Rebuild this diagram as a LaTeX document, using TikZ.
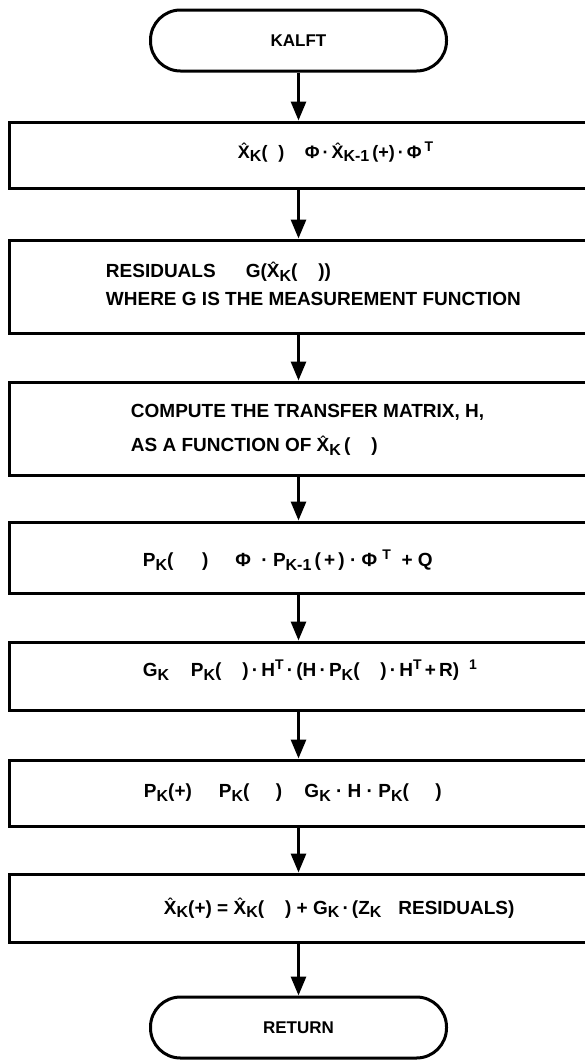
\documentclass[tikz,border=0pt]{standalone}
\usepackage{fontspec}
\setmainfont{Liberation Sans}
\usetikzlibrary{arrows.meta}
% hat, subscript and superscript as the chart prints them
\newcommand{\Xh}{\ooalign{\hidewidth\raise5.5pt\hbox{\fontsize{14}{14}\selectfont ˆ}\hidewidth\cr X}}
\newcommand{\sbk}[1]{\raisebox{-0.35ex}{\fontsize{16}{16}\selectfont #1}}
\newcommand{\spt}[1]{\raisebox{0.75ex}{\fontsize{14}{14}\selectfont #1}}
\newcommand{\mn}{\hspace{1.1em}}

\begin{document}
\begin{tikzpicture}[x=1pt,y=1pt,yscale=-1,xscale=1,
  term/.style={draw,line width=3pt,rounded corners=30pt,minimum width=296pt,minimum height=61pt,inner sep=0pt},
  procbox/.style={draw,line width=3pt,minimum width=579pt,inner sep=0pt},
  flow/.style={line width=3pt,-{Triangle[length=19pt,width=15pt]}},
  txt/.style={anchor=west,inner sep=0.75pt,font=\fontsize{19}{19}\selectfont\bfseries}]
\useasboundingbox (0,0) rectangle (585,1061);

%Shape: Terminal [id:start]
\node[term,font=\fontsize{17}{17}\selectfont\bfseries] (kalft) at (298.5,40.5) {KALFT};
%Shape: Rectangle [id:predict]
\node[procbox,minimum height=66pt] (b1) at (298.5,155) {};
%Shape: Rectangle [id:resid]
\node[procbox,minimum height=93pt] (b2) at (298.5,286.5) {};
%Shape: Rectangle [id:transfer]
\node[procbox,minimum height=93pt] (b3) at (298.5,428.5) {};
%Shape: Rectangle [id:covpred]
\node[procbox,minimum height=71pt] (b4) at (298.5,557.5) {};
%Shape: Rectangle [id:gain]
\node[procbox,minimum height=68pt] (b5) at (298.5,676) {};
%Shape: Rectangle [id:covupd]
\node[procbox,minimum height=66pt] (b6) at (298.5,793) {};
%Shape: Rectangle [id:stateupd]
\node[procbox,minimum height=68pt] (b7) at (298.5,908) {};
%Shape: Terminal [id:return]
\node[term,font=\fontsize{17}{17}\selectfont\bfseries] (ret) at (298.5,1027.5) {RETURN};

% Text Node
\draw (237,152) node [txt,font=\fontsize{18}{18}\selectfont\bfseries] (t1) {\Xh\sbk{K}(\hspace{0.6em})\hphantom{=}\ \ Φ\,·\,\Xh\sbk{K-1}\,(+)\,·\,Φ\,\spt{T}};
% Text Node
\draw (105,284) node [txt,align=left,font=\fontsize{19}{28}\selectfont\bfseries] (t2) {RESIDUALS\hphantom{=}\quad G(\Xh\sbk{K}(\mn))\\WHERE G IS THE MEASUREMENT FUNCTION};
% Text Node
\draw (130,430) node [txt,align=left,font=\fontsize{19}{34}\selectfont\bfseries] (t3) {COMPUTE THE TRANSFER MATRIX, H,\\AS A FUNCTION OF \Xh\sbk{K}\,(\mn)};
% Text Node
\draw (142,560) node [txt] (t4) {P\sbk{K}(\hspace{1.5em})\ \hphantom{=}\ \ Φ\ \ ·\ P\sbk{K-1}\,(\,+\,)\ ·\ Φ\ \spt{T}\ \ +\ Q};
% Text Node
\draw (142,670) node [txt] (t5) {G\sbk{K}\ \hphantom{=}\ P\sbk{K}(\mn)\,·\,H\spt{T}\,·\,(H\,·\,P\sbk{K}(\mn)\,·\,H\spt{T}\,+\,R)\ \spt{\hphantom{-}1}};
% Text Node
\draw (143,793) node [txt] (t6) {P\sbk{K}(+)\ \ \hphantom{=}\ P\sbk{K}(\hspace{1.4em})\ \hphantom{-}\ \ G\sbk{K}\ ·\ H\ ·\ P\sbk{K}(\hspace{1.4em})};
% Text Node
\draw (163,908) node [txt] (t7) {\Xh\sbk{K}(+)\ =\ \Xh\sbk{K}(\mn)\ +\ G\sbk{K}\,·\,(Z\sbk{K}\ \hphantom{-}\ RESIDUALS)};

% Connectors
\draw[flow] (kalft) -- (b1);
\draw[flow] (b1) -- (b2);
\draw[flow] (b2) -- (b3);
\draw[flow] (b3) -- (b4);
\draw[flow] (b4) -- (b5);
\draw[flow] (b5) -- (b6);
\draw[flow] (b6) -- (b7);
\draw[flow] (b7) -- (ret);

\end{tikzpicture}
\end{document}
